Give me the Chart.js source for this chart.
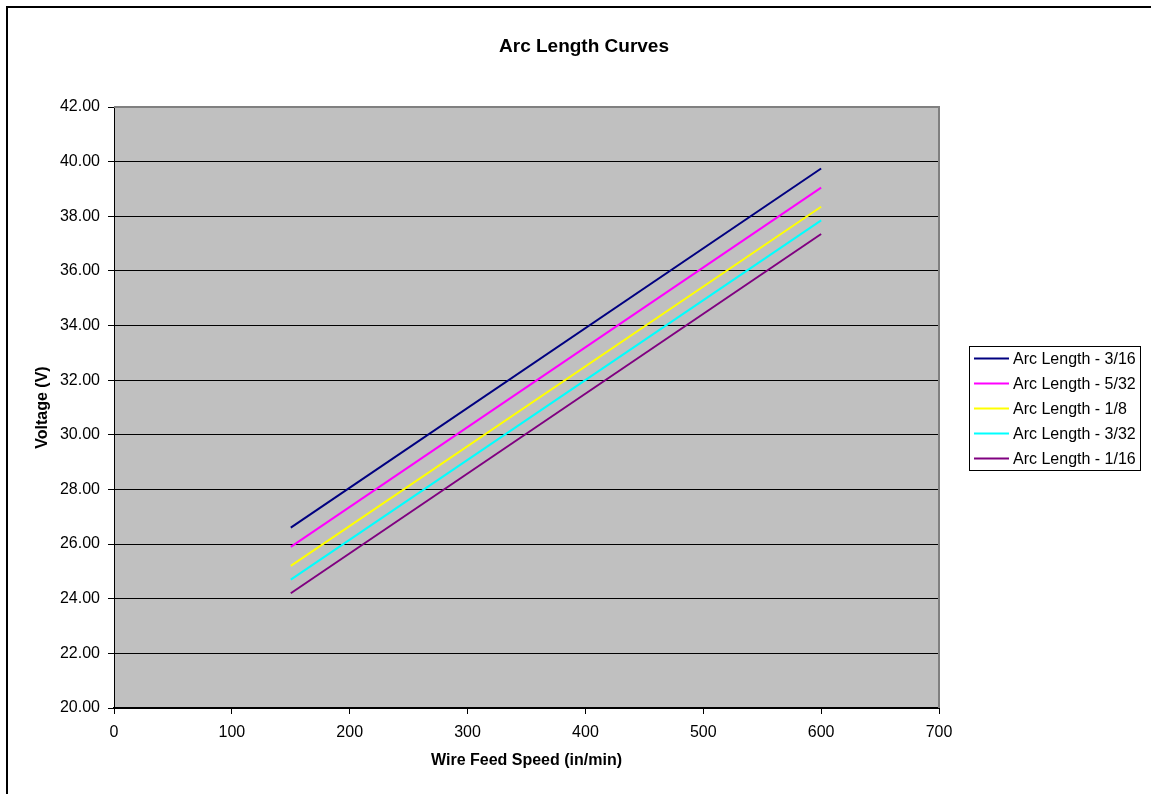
<!DOCTYPE html>
<html>
<head>
<meta charset="utf-8">
<script src="https://cdn.jsdelivr.net/npm/chart.js@4/dist/chart.umd.min.js"></script>
<style>
  html, body { margin: 0; padding: 0; background: #ffffff; }
  #wrap { width: 1151px; height: 794px; }
</style>
</head>
<body>
<div id="wrap"><canvas id="c" width="1151" height="794"></canvas></div>
<script>
// Wire feed speed (in/min) at which each curve is given
const wireFeed = [150, 600];

// Arc voltage (V) for each arc length
const arc3_16 = [26.6, 39.75];
const arc5_32 = [25.9, 39.05];
const arc1_8  = [25.2, 38.35];
const arc3_32 = [24.7, 37.85];
const arc1_16 = [24.2, 37.35];

const seriesNames = ['Arc Length - 3/16', 'Arc Length - 5/32', 'Arc Length - 1/8', 'Arc Length - 3/32', 'Arc Length - 1/16'];
const seriesColors = ['#000080', '#FF00FF', '#FFFF00', '#00FFFF', '#800080'];
const seriesValues = [arc3_16, arc5_32, arc1_8, arc3_32, arc1_16];

const titleText = 'Arc Length Curves';
const xTitle = 'Wire Feed Speed (in/min)';
const yTitle = 'Voltage (V)';

const FONT = '"Liberation Sans", Arial, Helvetica, sans-serif';

const datasets = seriesNames.map((name, i) => ({
  label: name,
  data: wireFeed.map((x, j) => ({ x: x, y: seriesValues[i][j] })),
  borderColor: seriesColors[i],
  backgroundColor: seriesColors[i],
  borderWidth: 2,
  pointRadius: 0,
  showLine: true,
  fill: false
}));

// Page frame, plot background, title and boxed legend
const decor = {
  id: 'decor',
  beforeDraw(chart) {
    const ctx = chart.ctx;
    const a = chart.chartArea;
    ctx.save();
    ctx.fillStyle = '#ffffff';
    ctx.fillRect(0, 0, chart.width, chart.height);
    ctx.strokeStyle = '#000000';
    ctx.lineWidth = 2;
    ctx.beginPath();
    ctx.moveTo(7, chart.height + 5);
    ctx.lineTo(7, 7);
    ctx.lineTo(chart.width + 5, 7);
    ctx.stroke();
    ctx.fillStyle = '#C0C0C0';
    ctx.fillRect(a.left, a.top, a.right - a.left, a.bottom - a.top);
    ctx.restore();
  },
  afterDraw(chart) {
    const ctx = chart.ctx;
    const a = chart.chartArea;
    ctx.save();
    // plot frame on the top and right
    ctx.strokeStyle = '#808080';
    ctx.lineWidth = 2;
    ctx.beginPath();
    ctx.moveTo(a.left, a.top);
    ctx.lineTo(a.right, a.top);
    ctx.lineTo(a.right, a.bottom);
    ctx.stroke();

    // title
    ctx.fillStyle = '#000000';
    ctx.font = 'bold 19px ' + FONT;
    ctx.textAlign = 'center';
    ctx.textBaseline = 'middle';
    ctx.fillText(titleText, 584, 47);

    // legend
    const lx = 969, ly = 346, lw = 171, lh = 124, rowH = 25;
    ctx.fillStyle = '#ffffff';
    ctx.fillRect(lx, ly, lw, lh);
    ctx.strokeStyle = '#000000';
    ctx.lineWidth = 1;
    ctx.strokeRect(lx + 0.5, ly + 0.5, lw, lh);
    ctx.font = '16px ' + FONT;
    ctx.textAlign = 'left';
    ctx.textBaseline = 'middle';
    chart.data.datasets.forEach((ds, i) => {
      const y = ly + 12.5 + i * rowH;
      ctx.strokeStyle = ds.borderColor;
      ctx.lineWidth = 2;
      ctx.beginPath();
      ctx.moveTo(974, y);
      ctx.lineTo(1009, y);
      ctx.stroke();
      ctx.fillStyle = '#000000';
      ctx.fillText(ds.label, 1013, y + 1);
    });
    ctx.restore();
  }
};

new Chart(document.getElementById('c'), {
  type: 'scatter',
  data: { datasets: datasets },
  options: {
    responsive: false,
    animation: false,
    devicePixelRatio: 1,
    layout: { padding: { top: 107, right: 212, bottom: 0, left: 0 } },
    plugins: {
      legend: { display: false },
      title: { display: false },
      tooltip: { enabled: false }
    },
    scales: {
      x: {
        type: 'linear',
        min: 0,
        max: 700,
        afterFit(scale) { scale.height = 86; },
        ticks: {
          stepSize: 100,
          color: '#000000',
          padding: 9,
          font: { family: FONT, size: 16 }
        },
        grid: {
          drawOnChartArea: false,
          drawTicks: true,
          tickLength: 6,
          tickColor: '#000000'
        },
        border: { display: true, color: '#000000', width: 2 },
        title: {
          display: true,
          text: xTitle,
          color: '#000000',
          font: { family: FONT, size: 16, weight: 'bold' },
          padding: { top: 0, bottom: 24 }
        }
      },
      y: {
        type: 'linear',
        min: 20,
        max: 42,
        afterFit(scale) { scale.width = 114; },
        ticks: {
          stepSize: 2,
          color: '#000000',
          padding: 8,
          font: { family: FONT, size: 16 },
          callback: (v) => Number(v).toFixed(2)
        },
        grid: {
          drawOnChartArea: true,
          drawTicks: true,
          tickLength: 6,
          color: '#000000',
          tickColor: '#000000',
          lineWidth: 1
        },
        border: { display: true, color: '#000000', width: 1 },
        title: {
          display: true,
          text: yTitle,
          color: '#000000',
          font: { family: FONT, size: 16, weight: 'bold' },
          padding: { top: 33, bottom: 0 }
        }
      }
    }
  },
  plugins: [decor]
});
</script>
</body>
</html>
